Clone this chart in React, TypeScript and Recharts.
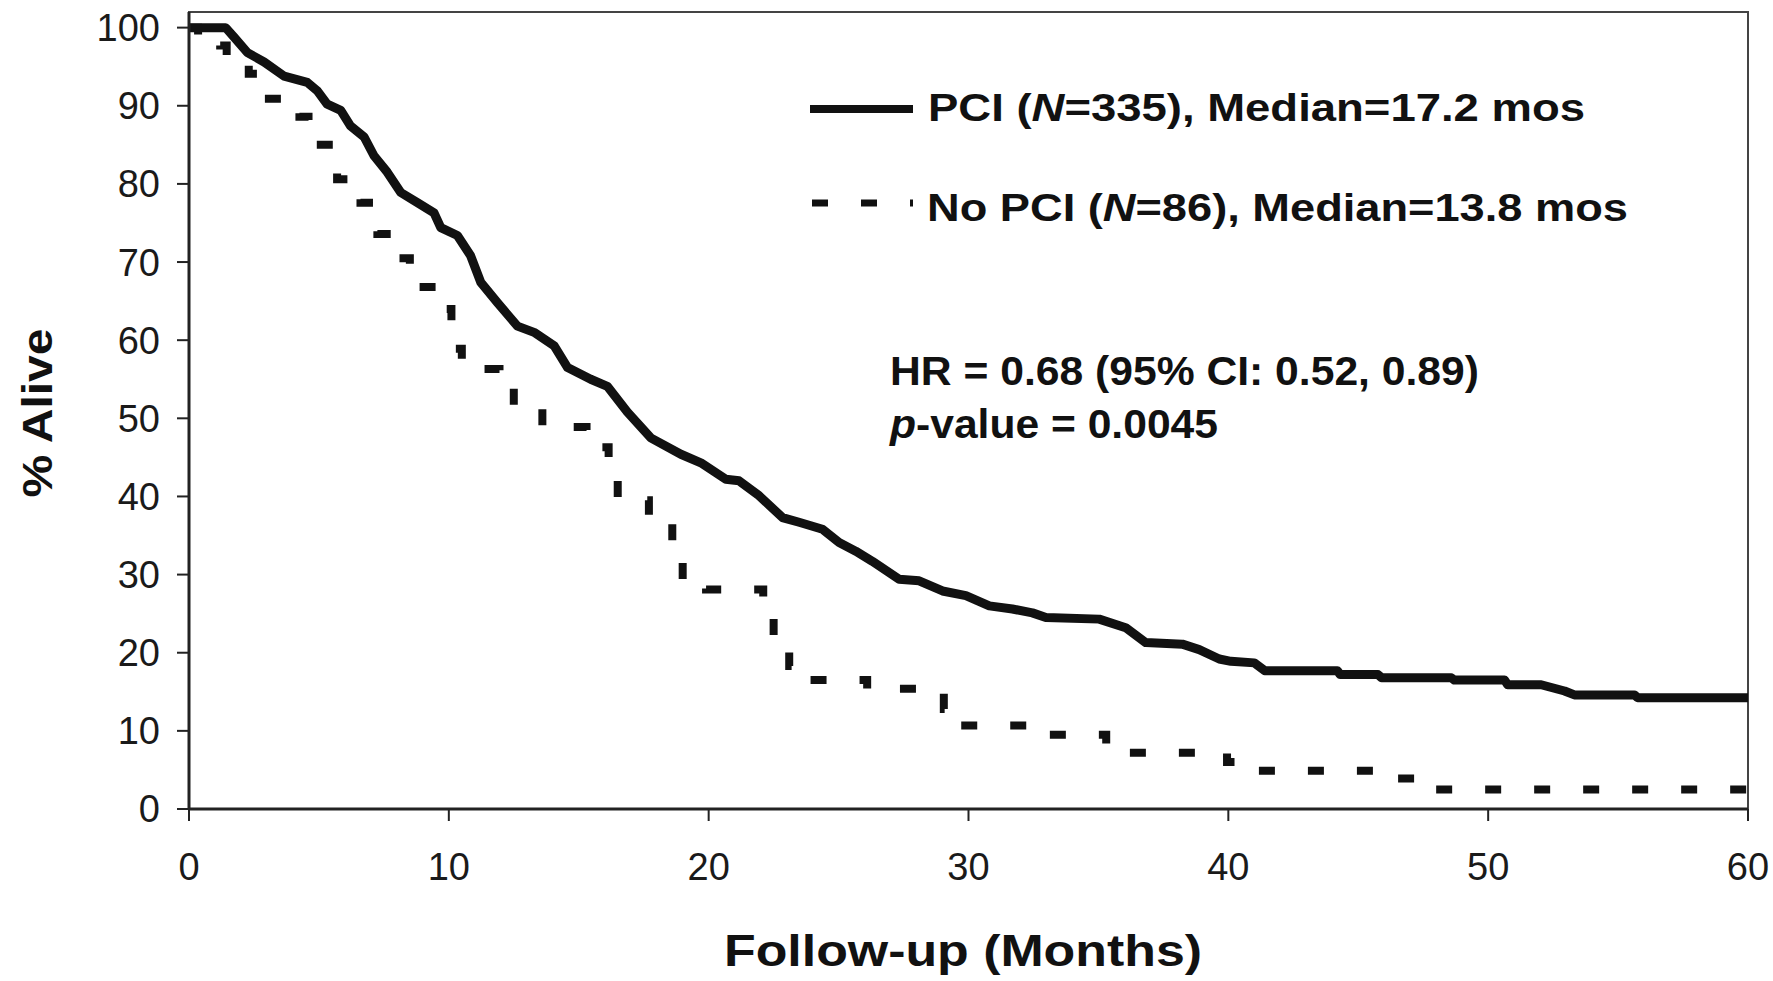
import React from "react";
import {
  LineChart,
  Line,
  XAxis,
  YAxis,
  Legend,
  ReferenceArea,
  Label,
} from "recharts";

// Kaplan-Meier curves (months, % alive)
const PCI_T = [
  0, 1.41, 1.73, 2.25, 2.89, 3.66, 4.55, 4.94, 5.32, 5.84, 6.22, 6.74, 7.12, 7.63, 8.15, 8.79,
  9.43, 9.69, 10.33, 10.84, 11.23, 11.87, 12.64, 13.28, 14.05, 14.57, 15.46, 16.1, 16.87, 17.77,
  18.93, 19.7, 20.66, 21.17, 21.94, 22.84, 23.48, 24.38, 25.02, 25.66, 26.3, 27.33, 28.1, 29.0,
  29.9, 30.8, 31.69, 32.46, 32.98, 35.03, 36.05, 36.82, 38.23, 38.88, 39.65, 40.1, 41.0, 41.4,
  44.2, 44.3, 45.76, 45.9, 48.58, 48.7, 50.63, 50.75, 52.04, 52.94, 53.32, 55.63, 55.75, 60,
];
const PCI_S = [
  100, 100, 98.8, 96.8, 95.6, 93.8, 93.0, 91.9, 90.2, 89.4, 87.4, 86.0, 83.6, 81.5, 78.9, 77.6,
  76.3, 74.4, 73.4, 70.8, 67.4, 64.8, 61.8, 61.0, 59.3, 56.5, 55.0, 54.1, 50.8, 47.5,
  45.4, 44.3, 42.2, 42.0, 40.1, 37.3, 36.7, 35.8, 34.1, 33.0, 31.7, 29.4, 29.2, 27.9,
  27.3, 26.0, 25.6, 25.1, 24.5, 24.3, 23.2, 21.3, 21.1, 20.4, 19.2, 18.9, 18.7, 17.7,
  17.7, 17.2, 17.2, 16.8, 16.8, 16.5, 16.5, 15.9, 15.9, 15.1, 14.6, 14.6, 14.25, 14.25,
];

const NOPCI_T = [
  0, 0.35, 1.2, 1.45, 2.1, 2.3, 2.7, 3.9, 4.25, 4.6, 5.7, 6.6, 7.25, 7.8, 8.5, 9.5, 10.1, 10.5,
  11.95, 12.5, 13.6, 15.3, 16.15, 16.5, 17.7, 18.6, 19.0, 19.9, 22.1, 22.5, 23.1, 23.5, 26.1,
  29.05, 29.4, 33.0, 35.3, 36.0, 39.95, 40.3, 46.2, 47.6, 60,
];
const NOPCI_S = [
  100, 98.8, 97.7, 96.5, 95.3, 94.1, 90.9, 89.8, 88.6, 85.0, 80.6, 77.6, 73.6, 70.5, 66.8, 64.0,
  58.9, 56.3, 54.3, 51.4, 48.9, 46.3, 42.8, 39.5, 36.9, 33.6, 29.4, 28.1, 26.6, 22.0, 18.3, 16.5,
  15.4, 12.8, 10.7, 9.5, 8.3, 7.2, 6.0, 4.9, 3.9, 2.5, 2.5,
];

const X_TICKS = [0, 10, 20, 30, 40, 50, 60];
const Y_TICKS = [0, 10, 20, 30, 40, 50, 60, 70, 80, 90, 100];

const pci = PCI_T.map((t, i) => ({ t, s: PCI_S[i] }));
const noPci = NOPCI_T.map((t, i) => ({ t, s: NOPCI_S[i] }));

const FONT = "'Liberation Sans', Arial, sans-serif";
const INK = "#111";

function LegendBox() {
  return (
    <svg width={900} height={180} style={{ overflow: "visible" }}>
      <line x1={10} x2={113} y1={49} y2={49} stroke={INK} strokeWidth={8} />
      <text
        x={128}
        y={61}
        fontFamily={FONT}
        fontWeight="bold"
        fontSize={39}
        fill={INK}
        textLength={657}
        lengthAdjust="spacingAndGlyphs"
      >
        PCI (<tspan fontStyle="italic">N</tspan>=335), Median=17.2 mos
      </text>
      <line x1={12} x2={113} y1={143} y2={143} stroke={INK} strokeWidth={7} strokeDasharray="16 33" />
      <text
        x={127}
        y={161}
        fontFamily={FONT}
        fontWeight="bold"
        fontSize={39}
        fill={INK}
        textLength={701}
        lengthAdjust="spacingAndGlyphs"
      >
        No PCI (<tspan fontStyle="italic">N</tspan>=86), Median=13.8 mos
      </text>
    </svg>
  );
}

export default function App() {
  return (
    <div style={{ position: "absolute", left: 0, top: 0, width: 1773, height: 981, background: "#fff" }}>
      <LineChart width={1773} height={981} margin={{ top: 12, right: 25, left: 0, bottom: 0 }}>
        <ReferenceArea x1={0} x2={60} y1={0} y2={102} fill="none" stroke="#444" strokeWidth={2} ifOverflow="visible" />
        <XAxis
          type="number"
          dataKey="t"
          domain={[0, 60]}
          ticks={X_TICKS}
          allowDataOverflow
          height={172}
          tickSize={12}
          tickMargin={32}
          axisLine={{ stroke: "#222", strokeWidth: 3 }}
          tickLine={{ stroke: "#222", strokeWidth: 2 }}
          tick={{ fontSize: 38, fill: "#1a1a1a", fontFamily: FONT }}
        >
          <Label
            content={() => (
              <text
                x={963}
                y={966}
                textAnchor="middle"
                fontFamily={FONT}
                fontWeight="bold"
                fontSize={44}
                fill={INK}
                textLength={478}
                lengthAdjust="spacingAndGlyphs"
              >
                Follow-up (Months)
              </text>
            )}
          />
        </XAxis>
        <YAxis
          type="number"
          domain={[0, 102]}
          ticks={Y_TICKS}
          allowDataOverflow
          width={189}
          tickSize={12}
          tickMargin={17}
          axisLine={{ stroke: "#222", strokeWidth: 3 }}
          tickLine={{ stroke: "#222", strokeWidth: 2 }}
          tick={{ fontSize: 38, fill: "#1a1a1a", fontFamily: FONT }}
        >
          <Label
            content={() => (
              <text
                x={37}
                y={413}
                transform="rotate(-90 37 413)"
                textAnchor="middle"
                dominantBaseline="central"
                fontFamily={FONT}
                fontWeight="bold"
                fontSize={42}
                fill={INK}
                textLength={169}
                lengthAdjust="spacingAndGlyphs"
              >
                % Alive
              </text>
            )}
          />
        </YAxis>
        <Line
          data={noPci}
          dataKey="s"
          name="No PCI"
          type="stepAfter"
          stroke={INK}
          strokeWidth={8}
          strokeDasharray="16 33"
          strokeLinecap="butt"
          dot={false}
          isAnimationActive={false}
        />
        <Line
          data={pci}
          dataKey="s"
          name="PCI"
          type="linear"
          stroke={INK}
          strokeWidth={9}
          strokeLinejoin="round"
          dot={false}
          isAnimationActive={false}
        />
        <Legend
          layout="vertical"
          align="center"
          verticalAlign="middle"
          wrapperStyle={{ left: 800, top: 60, width: 900, height: 180 }}
          content={() => <LegendBox />}
        />
        <ReferenceArea
          x1={30}
          x2={30}
          y1={60}
          y2={60}
          fill="none"
          stroke="none"
          ifOverflow="visible"
          label={() => (
            <g>
              <text
                x={890}
                y={385}
                fontFamily={FONT}
                fontWeight="bold"
                fontSize={40}
                fill={INK}
                textLength={589}
                lengthAdjust="spacingAndGlyphs"
              >
                HR = 0.68 (95%  CI: 0.52, 0.89)
              </text>
              <text
                x={890}
                y={438}
                fontFamily={FONT}
                fontWeight="bold"
                fontSize={40}
                fill={INK}
                textLength={328}
                lengthAdjust="spacingAndGlyphs"
              >
                <tspan fontStyle="italic">p</tspan>-value = 0.0045
              </text>
            </g>
          )}
        />
      </LineChart>
    </div>
  );
}
